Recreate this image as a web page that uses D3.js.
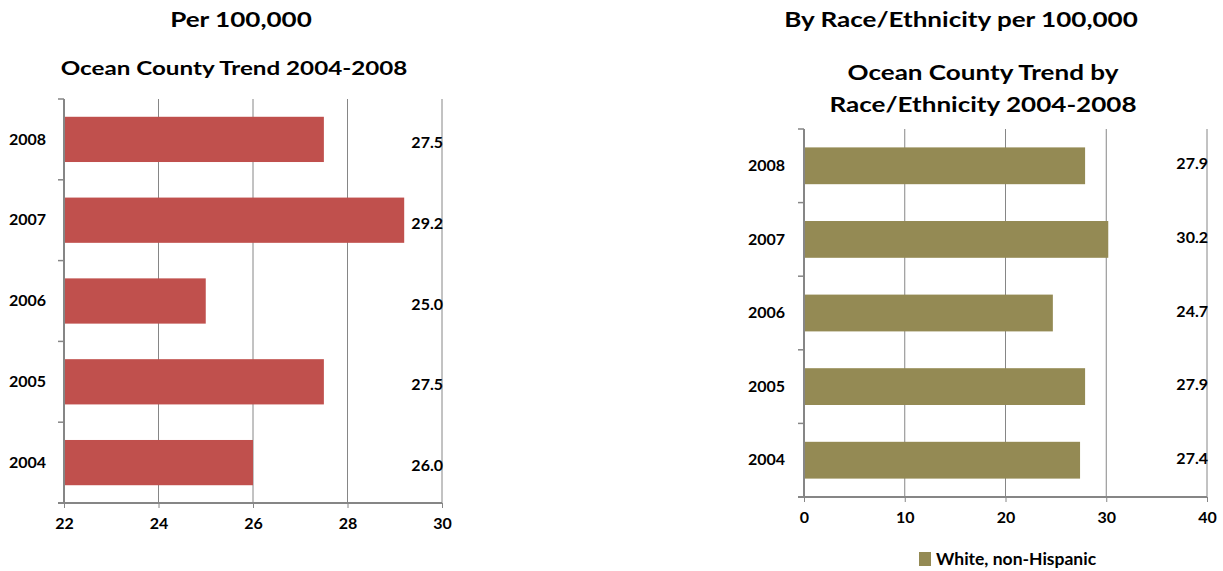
<!DOCTYPE html>
<html>
<head>
<meta charset="utf-8">
<script src="https://cdn.jsdelivr.net/npm/d3@7"></script>
<style>
  body { margin: 0; background: #fff; }
  svg { display: block; font-family: Lato, "Open Sans", sans-serif; font-weight: bold; }
</style>
</head>
<body>
<svg id="chart" width="1223" height="571"></svg>
<script>
// ---- Data ----
const years = ["2008", "2007", "2006", "2005", "2004"];
const countyRates = [27.5, 29.2, 25.0, 27.5, 26.0];
const countyTicks = [22, 24, 26, 28, 30];
const raceRates = [27.9, 30.2, 24.7, 27.9, 27.4];
const raceTicks = [0, 10, 20, 30, 40];
const raceSeries = "White, non-Hispanic";
const leftTitles = ["Per 100,000", "Ocean County Trend 2004-2008"];
const rightTitles = ["By Race/Ethnicity per 100,000", "Ocean County Trend by", "Race/Ethnicity 2004-2008"];

const svg = d3.select("#chart");
const gridColor = "#868686";
const labelFont = "16px";

function stretch(sel, factor) {
  sel.each(function () {
    const w = this.getComputedTextLength();
    d3.select(this).attr("textLength", w * factor).attr("lengthAdjust", "spacingAndGlyphs");
  });
}

function drawPanel(cfg) {
  const g = svg.append("g");
  const x = d3.scaleLinear().domain(cfg.domain).range([cfg.x0, cfg.x1]);
  const y = d3.scaleBand().domain(years).range([cfg.y0, cfg.y1])
    .paddingInner(cfg.pad).paddingOuter(cfg.pad / 2);
  const step = y.step();

  // gridlines
  g.selectAll("line.grid").data(cfg.ticks.slice(1)).enter().append("line")
    .attr("x1", d => x(d)).attr("x2", d => x(d))
    .attr("y1", cfg.y0).attr("y2", cfg.y1)
    .attr("stroke", gridColor).attr("stroke-width", 1);

  // bars
  g.selectAll("rect.bar").data(cfg.values).enter().append("rect")
    .attr("x", x(cfg.domain[0]))
    .attr("y", (d, i) => y(years[i]))
    .attr("width", d => x(d) - x(cfg.domain[0]))
    .attr("height", y.bandwidth())
    .attr("fill", cfg.color);

  // x axis
  const xAxis = d3.axisBottom(x).tickValues(cfg.ticks).tickSize(5).tickPadding(10)
    .tickFormat(d3.format("d"));
  const xg = g.append("g").attr("transform", `translate(0,${cfg.y1})`).call(xAxis);
  xg.select(".domain").attr("stroke", gridColor).attr("stroke-width", 2)
    .attr("d", `M${cfg.x0 - 6},0H${cfg.x1}`);
  xg.selectAll(".tick line").attr("stroke", gridColor);
  xg.selectAll(".tick text").attr("fill", "#000").style("font-size", labelFont)
    .style("font-family", "Lato, sans-serif").style("font-weight", "bold");

  // y axis
  const yAxis = d3.axisLeft(y).tickSize(0).tickPadding(cfg.yLabelPad);
  const yg = g.append("g").attr("transform", `translate(${cfg.x0},0)`).call(yAxis);
  yg.select(".domain").attr("stroke", gridColor).attr("stroke-width", 2)
    .attr("d", `M0,${cfg.y0}V${cfg.y1}`);
  yg.selectAll(".tick text").attr("fill", "#000").style("font-size", labelFont)
    .style("font-family", "Lato, sans-serif").style("font-weight", "bold");
  // category boundary ticks
  const bounds = d3.range(years.length + 1).map(i => cfg.y0 + i * step);
  g.selectAll("line.ytick").data(bounds).enter().append("line")
    .attr("x1", cfg.x0 - 6).attr("x2", cfg.x0)
    .attr("y1", d => d).attr("y2", d => d)
    .attr("stroke", gridColor).attr("stroke-width", 1.5);

  // value labels
  g.selectAll("text.val").data(cfg.values).enter().append("text")
    .attr("x", cfg.x1 + 1)
    .attr("y", (d, i) => y(years[i]) + y.bandwidth() / 2 + cfg.labelDy)
    .attr("dy", "0.35em")
    .attr("text-anchor", "end")
    .style("font-size", labelFont)
    .text(d => d.toFixed(1));
}

// Left panel
drawPanel({
  domain: [22, 30], ticks: countyTicks, values: countyRates,
  x0: 64, x1: 442, y0: 99, y1: 503, pad: 0.44, color: "#C0504D",
  yLabelPad: 18, labelDy: 3
});
// Right panel
drawPanel({
  domain: [0, 40], ticks: raceTicks, values: raceRates,
  x0: 804, x1: 1207, y0: 129, y1: 497, pad: 0.5, color: "#948A54",
  yLabelPad: 19, labelDy: -2
});

// Titles
const tl = svg.append("g").attr("text-anchor", "middle");
const t1 = tl.append("text").attr("x", 241).attr("y", 27).style("font-size", "21px").text(leftTitles[0]);
const t2 = tl.append("text").attr("x", 234).attr("y", 75).style("font-size", "19.5px").text(leftTitles[1]);
const t3 = tl.append("text").attr("x", 961).attr("y", 27).style("font-size", "21px").text(rightTitles[0]);
const t4 = tl.append("text").attr("x", 983).attr("y", 80).style("font-size", "21px").text(rightTitles[1]);
const t5 = tl.append("text").attr("x", 983).attr("y", 112).style("font-size", "21px").text(rightTitles[2]);
tl.selectAll("text").call(stretch, 1.24);

// Legend
const lg = svg.append("g");
lg.append("rect").attr("x", 919).attr("y", 552).attr("width", 12).attr("height", 14).attr("fill", "#948A54");
lg.append("text").attr("x", 936).attr("y", 565).style("font-size", "17.5px").text(raceSeries);
</script>
</body>
</html>
